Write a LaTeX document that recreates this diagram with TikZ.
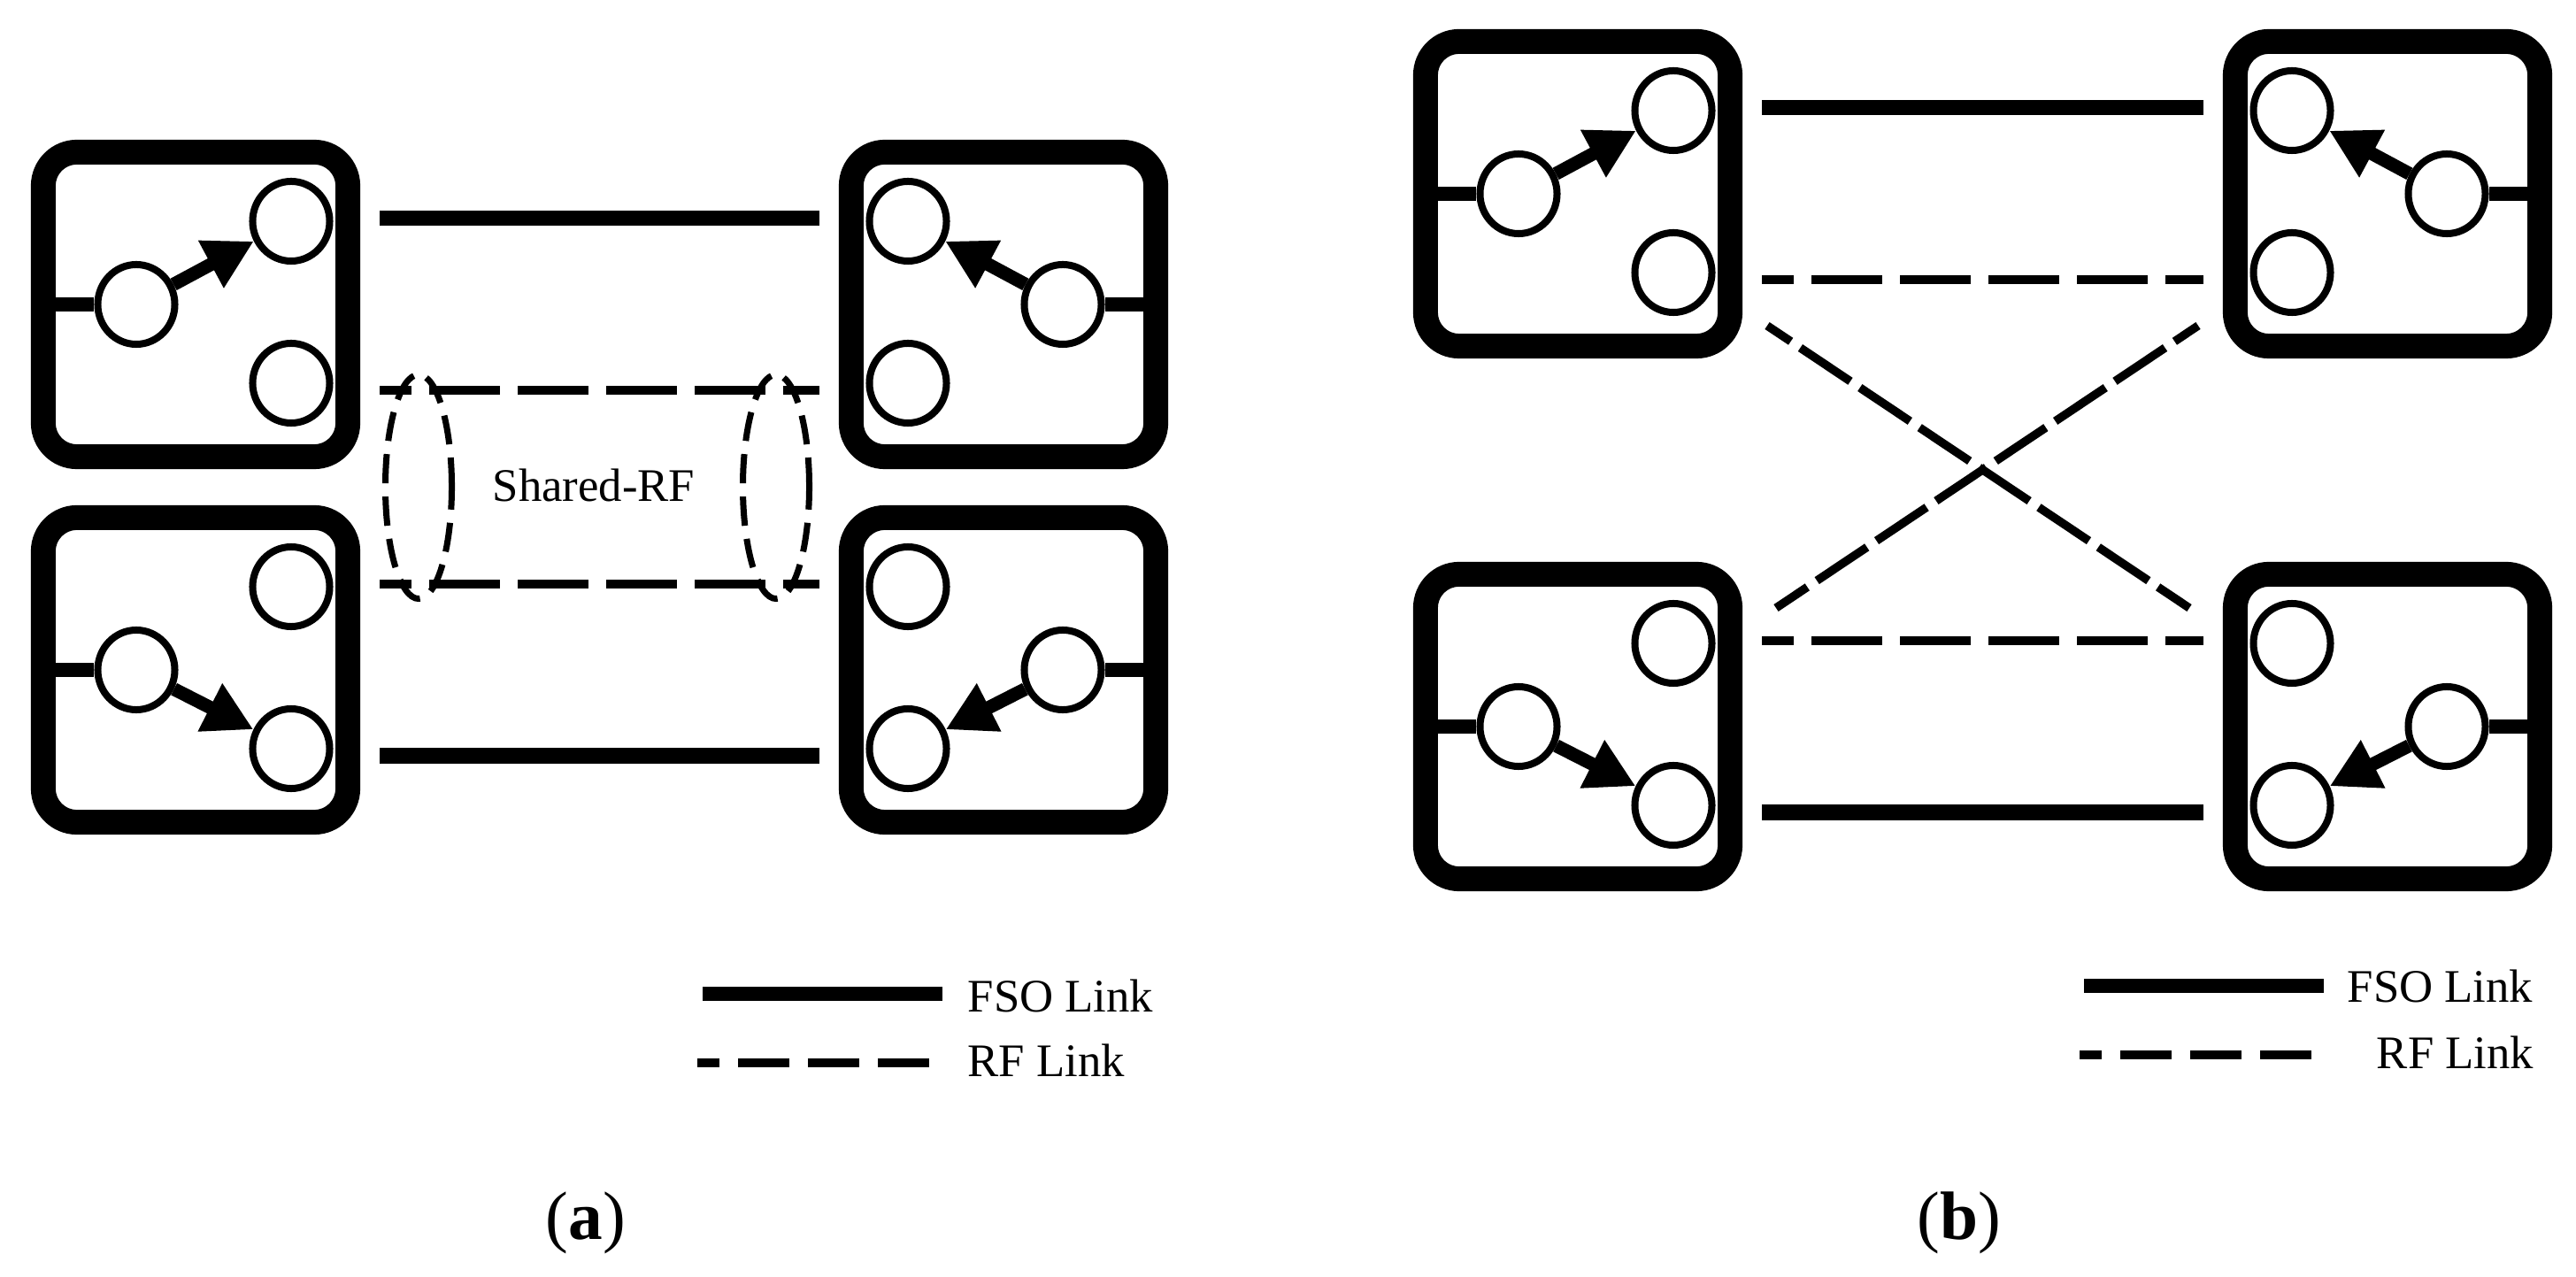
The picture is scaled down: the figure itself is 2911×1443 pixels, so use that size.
\documentclass[tikz,border=0pt]{standalone}
\usepackage{fontspec}
\setmainfont{Liberation Serif}
\usetikzlibrary{arrows.meta,shapes.geometric}

\begin{document}
\begin{tikzpicture}[x=0.01cm,y=-0.01cm,>={Triangle[length=0.55cm,width=0.57cm]}]
  \tikzstyle{router} = [draw, line width=0.28cm, rounded corners=0.38cm, minimum size=3.44cm, inner sep=0pt]
  \tikzstyle{port} = [draw, ellipse, line width=0.08cm, minimum width=0.87cm, minimum height=0.9cm, inner sep=0pt]
  \tikzstyle{stub} = [line width=0.16cm]
  \tikzstyle{sw} = [line width=0.15cm, ->]
  \tikzstyle{fso} = [line width=0.17cm]
  \tikzstyle{rf} = [line width=0.095cm, dash pattern=on 0.8cm off 0.2cm, dash phase=0.44cm]
  \tikzstyle{cross} = [line width=0.095cm, dash pattern=on 0.68cm off 0.13cm, dash phase=0.36cm]
  \tikzstyle{key} = [line width=0.09cm, dash pattern=on 0.58cm off 0.21cm, dash phase=0.33cm]
  \tikzstyle{shared} = [draw, ellipse, line width=0.07cm, dash pattern=on 0.33cm off 0.15cm, minimum width=0.75cm, minimum height=2.53cm, inner sep=0pt]
  \tikzstyle{lab} = [font=\fontsize{15}{18}\selectfont, inner sep=0pt]
  \tikzstyle{subcap} = [font=\fontsize{22}{26}\selectfont, inner sep=0pt]

  \useasboundingbox (0,0) rectangle (2911,1443);

  % routers: name / corner x / corner y / side / active port
  \foreach \n/\bx/\by/\s/\t in {atl/35/158/1/1, abl/35/571/1/2, atr/1320/158/-1/1, abr/1320/571/-1/2,
                               btl/1597/33/1/1, bbl/1597/635/1/2, btr/2884/33/-1/1, bbr/2884/635/-1/2}{
    \begin{scope}[shift={(\bx,\by)}, xscale=\s]
      \node[router] (\n) at (186,186) {};
      \coordinate (\n-p) at (14,186);
      \node[port] (\n-i) at (119,186) {};
      \node[port] (\n-o1) at (294,92) {};
      \node[port] (\n-o2) at (294,275) {};
      \draw[stub] (\n-p) -- (\n-i);
      \draw[sw] (\n-i) -- (\n-o\t);
      % link ends
      \coordinate (\n-l1) at (394,89);
      \coordinate (\n-l2) at (394,283);
      \coordinate (\n-dt) at (400,335);
      \coordinate (\n-db) at (410,52);
    \end{scope}
  }

  % (a) links
  \draw[fso] (atl-l1) -- (atr-l1);
  \draw[rf] (atl-l2) -- (atr-l2);
  \draw[rf] (abl-l1) -- (abr-l1);
  \draw[fso] (abl-l2) -- (abr-l2);

  \node[shared] (sh1) at (473,550) {};
  \node[shared] (sh2) at (877,550) {};
  \node[lab] (shtxt) at (671,548) {Shared-RF};

  % (b) links
  \draw[fso] (btl-l1) -- (btr-l1);
  \draw[rf] (btl-l2) -- (btr-l2);
  \draw[rf] (bbl-l1) -- (bbr-l1);
  \draw[fso] (bbl-l2) -- (bbr-l2);
  \draw[cross] (btl-dt) -- (bbr-db);
  \draw[cross] (btr-dt) -- (bbl-db);

  % legends
  \node[lab, anchor=base west] (fsoa) at (1093,1143) {FSO Link};
  \node[lab, anchor=base west] (rfa) at (1093,1216) {RF Link};
  \coordinate (fa1) at (794,1123);
  \coordinate (fa2) at (1065,1123);
  \coordinate (ra1) at (788,1201);
  \coordinate (ra2) at (1052,1201);
  \draw[fso, line width=0.15cm] (fa1) -- (fa2);
  \draw[key] (ra1) -- (ra2);

  \node[lab, anchor=base east] (fsob) at (2863,1133) {FSO Link};
  \node[lab, anchor=base east] (rfb) at (2864,1207) {RF Link};
  \coordinate (fb1) at (2355,1114);
  \coordinate (fb2) at (2626,1114);
  \coordinate (rb1) at (2350,1192);
  \coordinate (rb2) at (2614,1192);
  \draw[fso, line width=0.15cm] (fb1) -- (fb2);
  \draw[key] (rb1) -- (rb2);

  % captions
  \node[subcap, anchor=base] (capa) at (662,1400) {(\textbf{a})};
  \node[subcap, anchor=base] (capb) at (2214,1400) {(\textbf{b})};
\end{tikzpicture}
\end{document}
